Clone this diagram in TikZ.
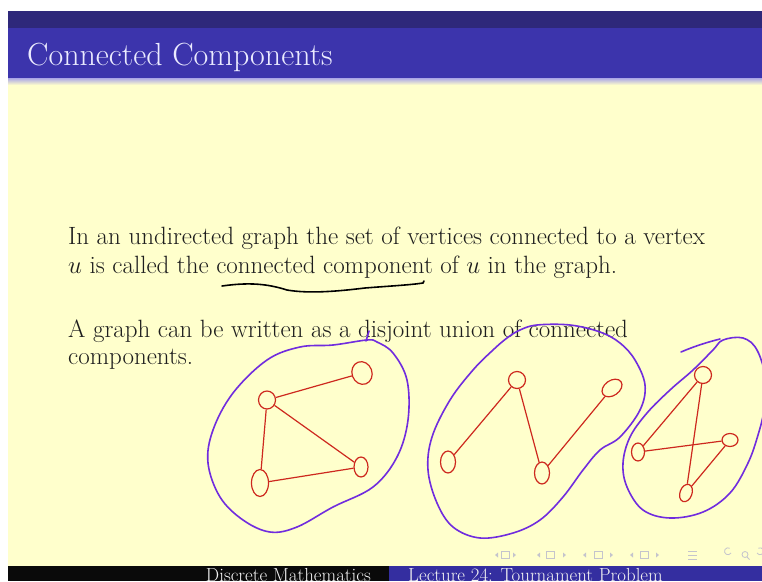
\documentclass[tikz,border=0pt]{standalone}
\usetikzlibrary{shapes.geometric}
\definecolor{bgyellow}{RGB}{255,255,204}
\definecolor{titlebar}{RGB}{60,52,172}
\definecolor{topstrip}{RGB}{46,40,122}
\definecolor{footblue}{RGB}{52,46,160}
\definecolor{footblack}{RGB}{10,10,10}
\definecolor{hred}{RGB}{205,40,30}
\definecolor{hpurple}{RGB}{112,44,222}
\definecolor{navgray}{RGB}{196,196,204}
\definecolor{lavender}{RGB}{170,165,230}
\definecolor{bodytext}{RGB}{30,30,30}
\begin{document}
\begin{tikzpicture}[x=1pt,y=-1pt,
  vtx/.style={ellipse, draw=hred, line width=1.2pt, inner sep=0pt},
  edge/.style={draw=hred, line width=1.2pt},
  blob/.style={draw=hpurple, line width=1.6pt, line cap=round, line join=round},
  ink/.style={draw=black, line width=1.6pt, line cap=round},
  bodyline/.style={anchor=base west, inner sep=0pt, text=bodytext, font=\fontsize{25}{30}\selectfont},
  foottext/.style={inner sep=0pt, text=white!90!gray, font=\fontsize{18.9}{22}\selectfont},
  navtri/.style={fill=navgray},
  navbox/.style={draw=navgray, line width=0.8pt}]
\useasboundingbox (0,0) rectangle (762,581);
\begin{scope}
\clip (0,0) rectangle (762,581);
% background
\fill[white] (0,0) rectangle (762,581);
\fill[bgyellow] (8,78) rectangle (762,581);
\fill[topstrip] (8,11) rectangle (762,28);
\fill[titlebar] (8,28) rectangle (762,78);
\shade[top color=lavender, bottom color=bgyellow] (8,78) rectangle (762,85);
\fill[footblack] (8,566) rectangle (389,581);
\fill[footblue] (389,566) rectangle (762,581);

% title
\node[anchor=base west, inner sep=0pt, text=white!92!blue, font=\fontsize{32}{38}\selectfont] (title) at (27,65)
  {Connected Components};

% body text
\node[bodyline] (l1) at (68,244) {In an undirected graph the set of vertices connected to a vertex};
\node[bodyline] (l2) at (68,273) {$u$ is called the connected component of $u$ in the graph.};
\node[bodyline] (l3) at (68,337) {A graph can be written as a disjoint union of connected};
\node[bodyline] (l4) at (68,364) {components.};

% underline
\coordinate (u0) at (222,286);
\coordinate (u1) at (423,283);
\draw[ink] (u0) .. controls (250,282) and (268,284) .. (287,290)
  .. controls (310,294) and (340,291) .. (365,288)
  .. controls (390,286) and (410,285) .. (u1) -- (424,281);

% footer
\node[foottext, anchor=base east] (f1) at (371,581) {Discrete Mathematics};
\node[foottext, anchor=base west] (f2) at (408,581) {Lecture 24: Tournament Problem};

% navigation symbols
\foreach \a/\b/\c in {495/505/516, 537/550/566, 583/598/613, 630/644/659}{
  \fill[navtri] (\a,555) -- ++(3,-2.5) -- ++(0,5) -- cycle;
  \fill[navtri] (\c,555) -- ++(-3,-2.5) -- ++(0,5) -- cycle;
  \draw[navbox] (\b-4,551.5) rectangle (\b+4,558.5);
}
\draw[navbox] (688,551) -- (697,551) (688,555) -- (697,555) (688,559) -- (697,559);
\draw[navbox] (731,553) arc[start angle=30, end angle=300, radius=3.5];
\draw[navbox] (745,554.5) circle[radius=3] (747,557) -- (749.5,559.5);
\draw[navbox] (757,553) arc[start angle=150, end angle=-120, radius=3.5];

% ---------- component 1 ----------
\node[vtx, minimum width=17, minimum height=18] (A) at (267,400) {};
\node[vtx, minimum width=20, minimum height=23, rotate=20] (B) at (362,373) {};
\node[vtx, minimum width=17, minimum height=27] (C) at (260,483) {};
\node[vtx, minimum width=14, minimum height=20] (D) at (361,467) {};
\draw[edge] (A) -- (B);
\draw[edge] (A) -- (C);
\draw[edge] (A) -- (D);
\draw[edge] (C) -- (D);
\draw[blob] plot[smooth cycle, tension=0.6] coordinates {
  (367,340) (333,345) (300,347) (267,360) (233,393) (213,430) (208,463)
  (220,497) (243,520) (270,532) (297,527) (333,507) (373,487) (397,457)
  (408,420) (407,380) (393,353) (377,342)};
\draw[blob] (366,341) -- (369,331);

% ---------- component 2 ----------
\node[vtx, minimum width=17, minimum height=17] (E) at (517,380) {};
\node[vtx, minimum width=22, minimum height=15, rotate=35] (F) at (612,388) {};
\node[vtx, minimum width=15, minimum height=22] (G) at (448,462) {};
\node[vtx, minimum width=15, minimum height=22] (H) at (542,473) {};
\draw[edge] (G) -- (E);
\draw[edge] (E) -- (H);
\draw[edge] (H) -- (F);
\draw[blob] plot[smooth cycle, tension=0.6] coordinates {
  (520,330) (537,325) (570,325) (600,332) (620,343) (635,360) (645,385)
  (640,410) (620,437) (600,450) (583,470) (563,497) (540,520) (513,533)
  (480,538) (453,527) (437,503) (428,470) (432,437) (450,400) (473,370)
  (493,350) (507,338)};

% ---------- component 3 ----------
\node[vtx, minimum width=17, minimum height=17] (I) at (703,375) {};
\node[vtx, minimum width=13, minimum height=18] (J) at (638,452) {};
\node[vtx, minimum width=16, minimum height=13] (K) at (730,440) {};
\node[vtx, minimum width=12, minimum height=18, rotate=-20] (L) at (686,493) {};
\draw[edge] (I) -- (J);
\draw[edge] (J) -- (K);
\draw[edge] (K) -- (L);
\draw[edge] (I) -- (L);
\draw[blob] plot[smooth cycle, tension=0.6] coordinates {
  (723,340) (743,338) (757,350) (766,380) (764,410) (758,435) (748,463)
  (730,493) (703,512) (670,518) (643,510) (627,487) (623,463) (630,437)
  (647,413) (670,390) (693,370) (713,350)};
\draw[blob] (681,352) .. controls (695,346) and (708,342) .. (720,339);
\end{scope}
\end{tikzpicture}
\end{document}
